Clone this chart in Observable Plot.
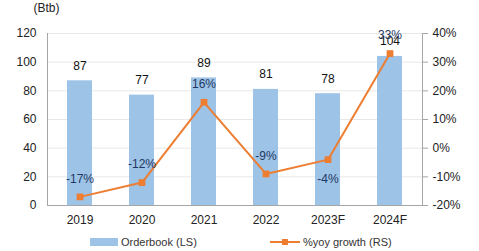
<!DOCTYPE html>
<html><head><meta charset="utf-8">
<script src="https://cdn.jsdelivr.net/npm/d3@7"></script>
<script src="https://cdn.jsdelivr.net/npm/@observablehq/plot@0.6"></script>
<style>
body{margin:0;background:#fff;font-family:"Liberation Sans",Arial,sans-serif;}
#legend{position:relative;width:479px;height:23px;font-size:11px;color:#333;}
#legend .item{position:absolute;top:8px;display:flex;align-items:center;gap:3px;white-space:nowrap;}
</style></head><body>
<div id="chart"></div>
<div id="legend">
  <div class="item" style="left:90px"><svg width="28" height="8"><rect x="0" y="0" width="28" height="8" fill="#9DC3E6"/></svg><span>Orderbook (LS)</span></div>
  <div class="item" style="left:270px"><svg width="30" height="8"><line x1="0" y1="4" x2="30" y2="4" stroke="#ED7D31" stroke-width="2"/><rect x="12" y="1" width="6" height="6" fill="#ED7D31"/></svg><span>%yoy growth (RS)</span></div>
</div>
<script>
const years = ["2019", "2020", "2021", "2022", "2023F", "2024F"];
const orderbook = [87, 77, 89, 81, 78, 104];
const growth = [-17, -12, 16, -9, -4, 33];
const leftTicks = [0, 20, 40, 60, 80, 100, 120];
const rightTicks = [-20, -10, 0, 10, 20, 30, 40];

const toLeft = g => (g - rightTicks[0]) * (leftTicks[leftTicks.length - 1] / (rightTicks[rightTicks.length - 1] - rightTicks[0]));
const data = years.map((year, i) => ({year, ob: orderbook[i], g: growth[i], gl: toLeft(growth[i])}));
const below = d => d.year === "2023F";

const plot = Plot.plot({
  width: 479, height: 228,
  marginLeft: 47, marginRight: 57, marginTop: 33, marginBottom: 23,
  style: {fontFamily: "Liberation Sans, Arial, sans-serif", fontSize: "12px", color: "#222", background: "#fff", overflow: "visible"},
  x: {domain: years, paddingInner: 0.6, paddingOuter: 0.3, label: null},
  y: {domain: [0, 120], label: null},
  marks: [
    Plot.gridY(leftTicks, {stroke: "#e8e8e8", strokeOpacity: 1}),
    Plot.barY(data, {x: "year", y: "ob", fill: "#9DC3E6"}),
    Plot.ruleY([0], {stroke: "#a6a6a6"}),
    Plot.frame({anchor: "left", stroke: "#a6a6a6"}),
    Plot.frame({anchor: "right", stroke: "#a6a6a6"}),
    Plot.axisY(leftTicks, {anchor: "left", tickSize: 0, tickPadding: 11, label: "(Btb)", labelAnchor: "top", labelArrow: "none", labelOffset: 14}),
    Plot.axisY(leftTicks, {anchor: "right", tickSize: 5, tickPadding: 5, stroke: "#a6a6a6", tickFormat: (d, i) => rightTicks[i] + "%", label: null}),
    Plot.axisX({tickSize: 0, tickPadding: 10, label: null}),
    Plot.text(data, {x: "year", y: "ob", text: d => String(d.ob), dy: -15, fill: "#111"}),
    Plot.lineY(data, {x: "year", y: "gl", stroke: "#ED7D31", strokeWidth: 2}),
    Plot.dot(data, {x: "year", y: "gl", symbol: "square", r: 3.8, fill: "#ED7D31"}),
    Plot.text(data.filter(d => !below(d)), {x: "year", y: "gl", text: d => d.g + "%", dy: -18, fill: "#1F3864"}),
    Plot.text(data.filter(below), {x: "year", y: "gl", text: d => d.g + "%", dy: 20, fill: "#1F3864"})
  ]
});
document.getElementById("chart").appendChild(plot);
</script>
</body></html>
